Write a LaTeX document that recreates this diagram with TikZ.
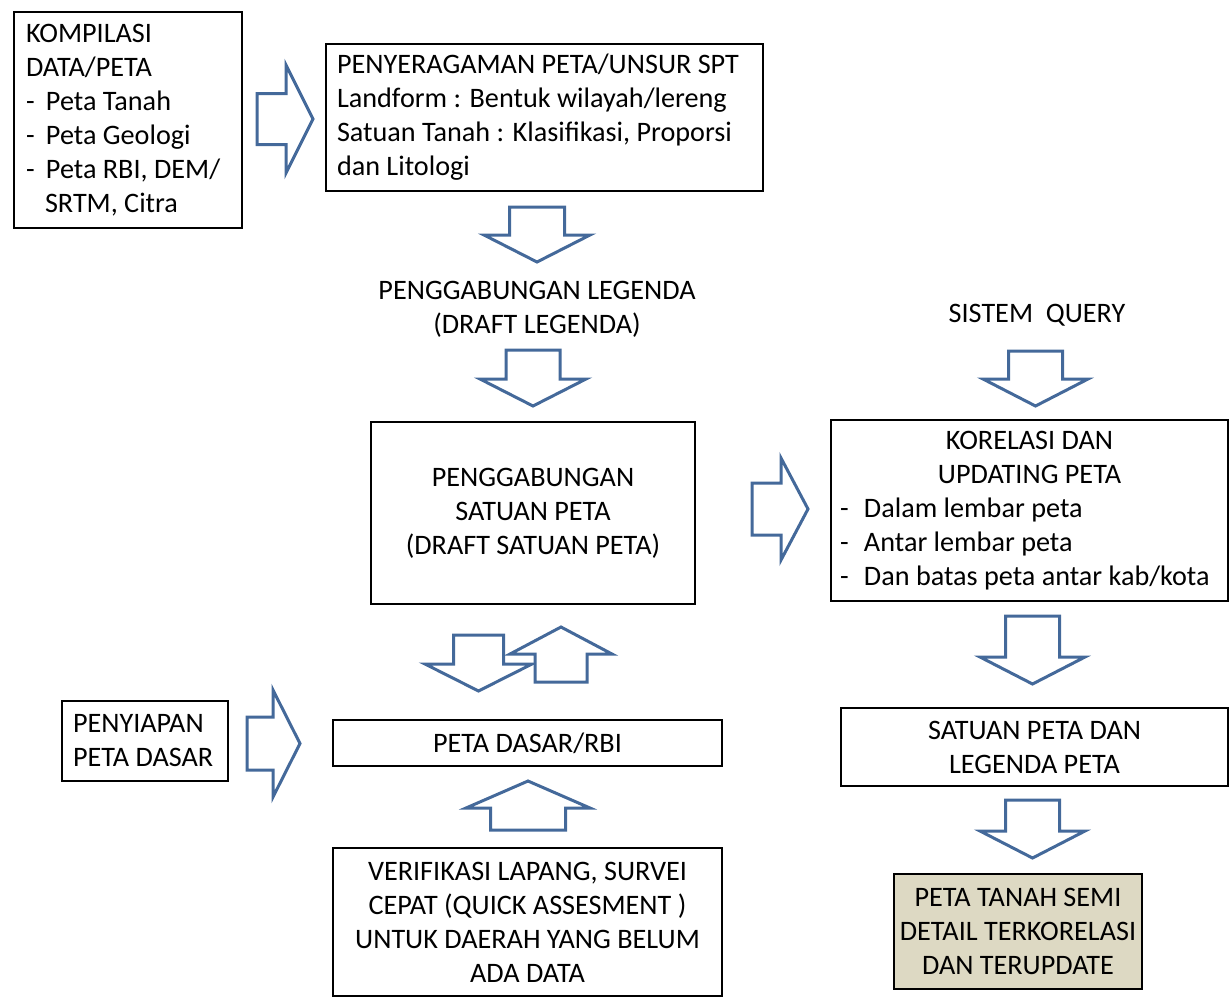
\documentclass[tikz,border=0pt]{standalone}
\usepackage{fontspec}
\setmainfont{Carlito}
\definecolor{arrowblue}{RGB}{68,105,154}
\definecolor{tanfill}{RGB}{221,217,195}

\newcommand{\fs}{\fontsize{14.1pt}{17pt}\selectfont}
\newcommand{\itm}[2][10pt]{\mbox{\makebox[#1][l]{-}#2}}
% hollow block arrow: x, y, angle, length, width, shaft width
\newcommand{\blockarrow}[6]{%
  \draw[barrow,shift={(#1,#2)},rotate=#3]
    (-#4/2,-#6/2) -- (#4/2-27,-#6/2) -- (#4/2-27,-#5/2) -- (#4/2,0)
    -- (#4/2-27,#5/2) -- (#4/2-27,#6/2) -- (-#4/2,#6/2) -- cycle;}

\begin{document}
\begin{tikzpicture}[x=0.5pt,y=-0.5pt,
    box/.style={draw,line width=1.3pt,font=\fs,inner sep=0pt},
    lbox/.style={box,align=flush left},
    cbox/.style={box,align=center},
    plain/.style={font=\fs,align=center},
    barrow/.style={draw=arrowblue,line width=1.5pt,fill=white,line join=miter}]
    \useasboundingbox (0,0) rectangle (1229,997);
    %% left column
    \node[lbox,minimum width=114pt,minimum height=108pt,inner xsep=6pt,text width=102pt]
      (kompilasi) at (128,120)
      {KOMPILASI\\DATA/PETA\\\itm{Peta Tanah}\\\itm{Peta Geologi}\\
       \itm{Peta RBI, DEM/}\\\hspace*{9.5pt}SRTM, Citra};
    \node[lbox,minimum width=218.5pt,minimum height=73.5pt,inner xsep=5.5pt,text width=207.5pt]
      (seragam) at (544.5,117.5)
      {PENYERAGAMAN PETA/UNSUR SPT\\Landform : Bentuk wilayah/lereng\\
       Satuan Tanah : Klasifikasi, Proporsi\\dan Litologi};
    \node[plain] (legenda) at (537,309.5) {PENGGABUNGAN LEGENDA\\(DRAFT LEGENDA)};
    \node[cbox,minimum width=162pt,minimum height=91pt] (satuan) at (533,513)
      {PENGGABUNGAN\\SATUAN PETA\\(DRAFT SATUAN PETA)};
    \node[lbox,minimum width=83pt,minimum height=40pt,inner xsep=5.5pt,text width=72pt]
      (penyiapan) at (145,741) {PENYIAPAN\\PETA DASAR};
    \node[cbox,minimum width=194.5pt,minimum height=23pt] (dasar) at (527.5,743)
      {PETA DASAR/RBI};
    \node[cbox,minimum width=194.5pt,minimum height=74pt] (verifikasi) at (527.5,922)
      {VERIFIKASI LAPANG, SURVEI\\CEPAT (QUICK ASSESMENT )\\UNTUK DAERAH YANG BELUM\\ADA DATA};
    %% right column
    \node[plain] (query) at (1037,315) {SISTEM\ \ QUERY};
    \node[lbox,minimum width=198.5pt,minimum height=90.5pt,inner xsep=4.5pt,text width=189.5pt]
      (korelasi) at (1029.5,510.5)
      {\centering KORELASI DAN\\UPDATING PETA\par\raggedright
       \itm[12pt]{Dalam lembar peta}\\\itm[12pt]{Antar lembar peta}\\
       \itm[12pt]{Dan batas peta antar kab/kota}};
    \node[cbox,minimum width=193.5pt,minimum height=39pt] (legpeta) at (1034.5,747)
      {SATUAN PETA DAN\\LEGENDA PETA};
    \node[cbox,fill=tanfill,minimum width=124pt,minimum height=57.5pt] (hasil) at (1018,931.5)
      {PETA TANAH SEMI\\DETAIL TERKORELASI\\DAN TERUPDATE};
    %% block arrows
    \blockarrow{285}{119}{0}{56}{108}{51}
    \blockarrow{537}{234.5}{-90}{55}{106}{55}
    \blockarrow{533}{378}{-90}{56}{106}{54}
    \blockarrow{780}{509}{0}{56}{102}{52}
    \blockarrow{1035.5}{378.5}{-90}{55}{105}{54}
    \blockarrow{1032.5}{650}{-90}{68}{105}{54}
    \blockarrow{1032.5}{829}{-90}{58}{105}{54}
    \blockarrow{478.5}{663}{-90}{56}{107}{50}
    \blockarrow{561}{654.5}{90}{55}{102}{52}
    \blockarrow{273.5}{743.5}{0}{53}{107}{53}
    \blockarrow{528}{805.5}{90}{49}{124}{75}
  \end{tikzpicture}
\end{document}
